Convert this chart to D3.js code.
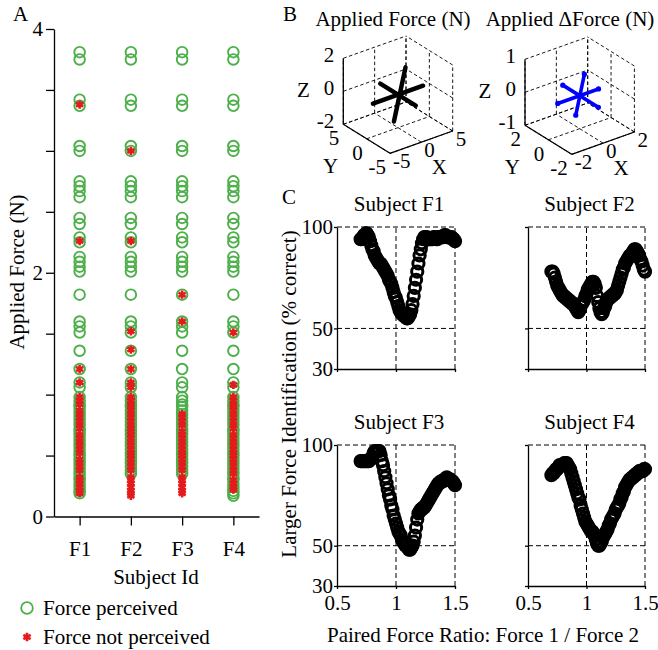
<!DOCTYPE html>
<html>
<head>
<meta charset="utf-8">
<script src="https://cdn.jsdelivr.net/npm/d3@7"></script>
<style>
body { margin: 0; background: #fff; }
text { font-family: "Liberation Serif", "Times New Roman", serif; fill: #000; }
</style>
</head>
<body>
<svg id="fig" width="658" height="650"></svg>
<script>
"use strict";

// ---- panel A data
const subjects = ["F1", "F2", "F3", "F4"];
const forceLevels = [3.81, 3.75, 3.42, 3.37, 3.04, 3.00, 2.75, 2.71, 2.67, 2.62, 2.45, 2.40, 2.29, 2.25,
    2.13, 2.09, 2.05, 2.01, 1.82, 1.60, 1.56, 1.51, 1.36, 1.21, 1.10, 1.06, 0.98, 0.95, 0.92, 0.90,
    0.87, 0.84, 0.81, 0.78, 0.75, 0.72, 0.70, 0.67, 0.64, 0.61, 0.58, 0.55, 0.52, 0.50, 0.47, 0.44,
    0.41, 0.38, 0.35, 0.32, 0.30, 0.27, 0.24, 0.21, 0.19, 0.17];
const lowestPerceived = [0.19, 0.35, 0.35, 0.17];
const notPerceivedF1 = [3.38, 2.26, 1.21, 1.10, 0.98, 0.95, 0.92, 0.87, 0.84, 0.81, 0.78, 0.75, 0.72, 0.67,
    0.64, 0.61, 0.58, 0.55, 0.52, 0.47, 0.44, 0.41, 0.38, 0.32, 0.30, 0.27, 0.24, 0.21, 0.19];
const notPerceivedF2 = [3.00, 2.26, 1.52, 1.37, 1.21, 1.10, 1.06, 0.98, 0.95, 0.92, 0.90, 0.87, 0.84, 0.81,
    0.78, 0.75, 0.72, 0.70, 0.67, 0.64, 0.61, 0.58, 0.55, 0.52, 0.50, 0.47, 0.44, 0.41, 0.38, 0.32,
    0.30, 0.27, 0.24, 0.21, 0.19, 0.17];
const notPerceivedF3 = [1.82, 1.60, 0.84, 0.81, 0.78, 0.75, 0.70, 0.67, 0.64, 0.61, 0.58, 0.55, 0.52, 0.50,
    0.47, 0.44, 0.41, 0.38, 0.32, 0.30, 0.27, 0.24, 0.21, 0.19];
const notPerceivedF4 = [1.51, 1.08, 0.98, 0.95, 0.92, 0.90, 0.87, 0.84, 0.81, 0.78, 0.75, 0.72, 0.67, 0.64,
    0.61, 0.58, 0.55, 0.52, 0.50, 0.47, 0.44, 0.41, 0.38, 0.35, 0.30, 0.27, 0.24, 0.22];
const yTicksA = [0, 0.5, 1, 1.5, 2, 2.5, 3, 3.5, 4];
const yLabelsA = [0, 2, 4];

// ---- panel B data (3D force directions)
const forceTicks = {x: [-5, 0, 5], y: [-5, 0, 5], z: [-2, 0, 2]};
const dForceTicks = {x: [-2, 0, 2], y: [-2, 0, 2], z: [-1, 0, 1]};
const forceLines = [
    [[-4, 0, 0], [4, 0, 0]],
    [[0, -3.8, 0], [0, 3.8, 0]],
    [[0.9, -0.4, 1.6], [-0.5, 0.2, -1.6]]
];
const dForceLines = [
    [[-1.4, 0, 0], [1.2, 0, 0]],
    [[0, 1.45, 0], [0, -1.6, 0]],
    [[0.3, 0, 0.6], [-0.25, 0, -0.55]]
];

// ---- panel C data
const ratios = [0.70, 0.71, 0.72, 0.73, 0.74, 0.75, 0.76, 0.77, 0.78, 0.79,
    0.80, 0.81, 0.82, 0.83, 0.84, 0.85, 0.86, 0.87, 0.88, 0.89,
    0.90, 0.91, 0.92, 0.93, 0.94, 0.95, 0.96, 0.97, 0.98, 0.99,
    1.00, 1.01, 1.02, 1.03, 1.04, 1.05, 1.06, 1.07, 1.08, 1.09,
    1.10, 1.11, 1.12, 1.13, 1.14, 1.15, 1.16, 1.17, 1.18, 1.19,
    1.20, 1.21, 1.22, 1.23, 1.24, 1.25, 1.26, 1.27, 1.28, 1.29,
    1.30, 1.31, 1.32, 1.33, 1.34, 1.35, 1.36, 1.37, 1.38, 1.39,
    1.40, 1.41, 1.42, 1.43, 1.44, 1.45, 1.46, 1.47, 1.48, 1.49, 1.50];
const pctF1 = [94, 94, 95, 96, 96, 97, 96, 95, 93, 91,
    89, 88, 86, 85, 84, 83, 82, 82, 81, 80,
    79, 78, 77, 76, 74, 73, 72, 70, 68, 66,
    65, 63, 61, 59, 58, 57, 57, 56, 56, 55,
    55, 56, 57, 59, 62, 66, 70, 74, 78, 82,
    86, 89, 92, 94, 95, 95, 95, 94, 94, 94,
    94, 94, 95, 95, 94, 94, 95, 95, 95, 95,
    95, 96, 96, 95, 95, 95, 95, 95, 94, 94, 93];
const pctF2 = [78, 78, 77, 75, 73, 71, 70, 69, 68, 67,
    66, 66, 65, 65, 64, 64, 63, 63, 62, 62,
    61, 60, 59, 58, 59, 61, 62, 63, 64, 66,
    67, 69, 70, 71, 72, 73, 73, 72, 70, 66,
    63, 60, 58, 57, 58, 60, 61, 63, 64, 65,
    65, 66, 66, 67, 67, 68, 69, 71, 73, 75,
    77, 79, 80, 82, 83, 84, 85, 86, 86, 87,
    88, 89, 89, 88, 87, 86, 84, 83, 81, 79, 78];
const pctF3 = [92, 92, 92, 92, 92, 92, 92, 92, 93, 93,
    94, 96, 97, 97, 97, 97, 97, 95, 92, 90,
    87, 84, 81, 78, 75, 73, 70, 68, 65, 63,
    61, 59, 57, 56, 55, 53, 52, 51, 50, 50,
    49, 48, 48, 49, 50, 52, 55, 59, 63, 66,
    67, 68, 68, 69, 69, 70, 71, 72, 73, 74,
    75, 76, 77, 78, 79, 80, 81, 81, 82, 82,
    82, 83, 83, 84, 83, 83, 83, 82, 82, 81, 80];
const pctF4 = [85, 86, 86, 87, 88, 88, 89, 90, 90, 90,
    90, 91, 91, 91, 90, 89, 88, 86, 84, 82,
    80, 78, 76, 74, 73, 70, 68, 66, 64, 62,
    61, 60, 59, 58, 57, 57, 56, 55, 53, 51,
    50, 50, 51, 52, 54, 55, 56, 57, 58, 60,
    61, 63, 64, 65, 66, 68, 69, 70, 71, 73,
    74, 76, 77, 79, 80, 81, 82, 83, 83, 84,
    84, 85, 85, 86, 86, 87, 87, 87, 87, 88, 88];
const ratioTicks = [0.5, 1, 1.5];
const pctTicks = [30, 50, 100];

const GREEN = "#4daf4a";
const RED = "#e41a1c";
const FS = "21px";

const svg = d3.select("#fig");

function styleAxis(g) {
    g.attr("font-family", null).attr("font-size", null);
    g.selectAll("text").style("font-size", FS);
    g.selectAll("path, line").attr("stroke-width", 1.3);
}

function label(txt, x, y, anchor, rot) {
    let t = svg.append("text")
        .attr("x", x)
        .attr("y", y)
        .attr("text-anchor", anchor || "middle")
        .style("font-size", FS)
        .text(txt);
    if (rot) {
        t.attr("transform", "rotate(" + rot + "," + x + "," + y + ")");
    }
    return t;
}

function panelA() {
    const x = d3.scalePoint().domain(subjects).range([54, 259]).padding(0.5);
    const y = d3.scaleLinear().domain([0, 4]).range([516.5, 29]);
    const g = svg.append("g");

    g.append("g")
        .attr("transform", "translate(54,0)")
        .call(d3.axisLeft(y).tickValues(yTicksA).tickSize(8).tickSizeOuter(0)
            .tickFormat(d => yLabelsA.includes(d) ? d : ""))
        .call(styleAxis);
    g.append("g")
        .attr("transform", "translate(0,516.5)")
        .call(d3.axisBottom(x).tickSize(9).tickSizeOuter(0).tickPadding(16))
        .call(styleAxis);

    const notPerceived = [notPerceivedF1, notPerceivedF2, notPerceivedF3, notPerceivedF4];
    subjects.forEach(function(s, i) {
        let green = forceLevels.filter(v => v >= lowestPerceived[i] - 0.001);
        g.selectAll(null)
            .data(green)
            .enter()
            .append("circle")
            .attr("cx", x(s))
            .attr("cy", d => y(d))
            .attr("r", 5.3)
            .attr("fill", "none")
            .attr("stroke", GREEN)
            .attr("stroke-width", 1.9);
    });
    subjects.forEach(function(s, i) {
        g.selectAll(null)
            .data(notPerceived[i])
            .enter()
            .append("path")
            .attr("d", d3.symbol(d3.symbolAsterisk, 48))
            .attr("transform", d => "translate(" + x(s) + "," + y(d) + ")")
            .attr("fill", "none")
            .attr("stroke", RED)
            .attr("stroke-width", 2.6);
    });

    label("A", 13, 21, "start");
    label("Subject Id", 156, 584);
    label("Applied Force (N)", 24, 272, "middle", -90);

    // legend
    svg.append("circle").attr("cx", 27).attr("cy", 608).attr("r", 5.8)
        .attr("fill", "none").attr("stroke", GREEN).attr("stroke-width", 1.8);
    label("Force perceived", 43, 615, "start");
    svg.append("path").attr("d", d3.symbol(d3.symbolAsterisk, 50))
        .attr("transform", "translate(27,637)")
        .attr("fill", "none").attr("stroke", RED).attr("stroke-width", 2.6);
    label("Force not perceived", 43, 644, "start");
}

function panel3d(ticks, lines, ox, oy, color, title, titleX) {
    const xs = d3.scaleLinear().domain(d3.extent(ticks.x)).range([0, 1]);
    const ys = d3.scaleLinear().domain(d3.extent(ticks.y)).range([0, 1]);
    const zs = d3.scaleLinear().domain(d3.extent(ticks.z)).range([0, 1]);
    const P = function(x, y, z) {
        let u = xs(x), v = ys(y), w = zs(z);
        return [ox + u * 62.7 - v * 46.7, oy - u * 22.3 - v * 29 - w * 66];
    };
    const [x0, x1] = xs.domain(), [y0, y1] = ys.domain(), [z0, z1] = zs.domain();
    const g = svg.append("g");
    const line = d3.line();

    let grid = [];
    ticks.x.forEach(x => grid.push([P(x, y0, z0), P(x, y1, z0)]));
    ticks.y.forEach(y => grid.push([P(x0, y, z0), P(x1, y, z0)]));
    ticks.x.forEach(x => grid.push([P(x, y1, z0), P(x, y1, z1)]));
    ticks.z.forEach(z => grid.push([P(x0, y1, z), P(x1, y1, z)]));
    ticks.y.forEach(y => grid.push([P(x1, y, z0), P(x1, y, z1)]));
    ticks.z.forEach(z => grid.push([P(x1, y0, z), P(x1, y1, z)]));
    g.selectAll(".grid")
        .data(grid)
        .enter()
        .append("path")
        .attr("d", line)
        .attr("fill", "none")
        .attr("stroke", "#000")
        .attr("stroke-width", 0.9)
        .attr("stroke-dasharray", "3.5,2.5");

    let axes = [
        [P(x0, y1, z0), P(x0, y1, z1)],
        [P(x0, y0, z0), P(x1, y0, z0)],
        [P(x0, y0, z0), P(x0, y1, z0)]
    ];
    g.selectAll(".ax")
        .data(axes)
        .enter()
        .append("path")
        .attr("d", line)
        .attr("fill", "none")
        .attr("stroke", "#000")
        .attr("stroke-width", 1.3);

    // tick labels
    ticks.z.forEach(function(z) {
        let p = P(x0, y1, z);
        label(z, p[0] - 9, p[1] + 4, "end");
    });
    ticks.y.forEach(function(y) {
        let p = P(x0, y, z0);
        label(y, p[0] - 4, p[1] + 21, "end");
    });
    ticks.x.forEach(function(x) {
        let p = P(x, y0, z0);
        label(x, p[0] + 3, p[1] + 15, "start");
    });
    let pz = P(x0, y1, 0), py = P(x0, 0, z0), px = P(0, y0, z0);
    label("Z", pz[0] - 40, pz[1] + 6);
    label("Y", py[0] - 36, py[1] + 34);
    label("X", px[0] + 18, px[1] + 32);

    // star
    g.selectAll(".star")
        .data(lines)
        .enter()
        .append("path")
        .attr("d", d => line(d.map(q => P(q[0], q[1], q[2]))))
        .attr("stroke", color)
        .attr("stroke-width", color === "#000" ? 4.5 : 3.6)
        .attr("stroke-linecap", "round");
    if (color !== "#000") {
        let ends = [];
        lines.forEach(l => { ends.push(l[0]); ends.push(l[1]); });
        g.selectAll(".end")
            .data(ends)
            .enter()
            .append("circle")
            .attr("cx", q => P(q[0], q[1], q[2])[0])
            .attr("cy", q => P(q[0], q[1], q[2])[1])
            .attr("r", 2.6)
            .attr("fill", color);
    }
    label(title, titleX, 26);
}

function panelC() {
    const colRanges = [[337, 455], [528, 645]];
    const rowRanges = [[369, 227], [586, 445]];
    const pcts = [pctF1, pctF2, pctF3, pctF4];
    const titleY = [211, 429];

    subjects.forEach(function(s, i) {
        let col = i % 2, row = Math.floor(i / 2);
        let x = d3.scaleLinear().domain([0.5, 1.5]).range(colRanges[col]);
        let y = d3.scaleLinear().domain([30, 100]).range(rowRanges[row]);
        let g = svg.append("g");

        // dashed grid
        [50, 100].forEach(function(v) {
            g.append("line")
                .attr("x1", x(0.5)).attr("x2", x(1.5))
                .attr("y1", y(v)).attr("y2", y(v))
                .attr("stroke", "#000").attr("stroke-width", 1)
                .attr("stroke-dasharray", "5,3");
        });
        [1, 1.5].forEach(function(v) {
            g.append("line")
                .attr("x1", x(v)).attr("x2", x(v))
                .attr("y1", y(30)).attr("y2", y(100))
                .attr("stroke", "#000").attr("stroke-width", 1)
                .attr("stroke-dasharray", "5,3");
        });

        g.append("g")
            .attr("transform", "translate(" + x(0.5) + ",0)")
            .call(d3.axisLeft(y).tickValues(pctTicks).tickSize(3).tickSizeOuter(0).tickPadding(1)
                .tickFormat(d => col === 0 ? d : ""))
            .call(styleAxis);
        g.append("g")
            .attr("transform", "translate(0," + y(30) + ")")
            .call(d3.axisBottom(x).tickValues(ratioTicks).tickSize(3).tickSizeOuter(0).tickPadding(6)
                .tickFormat(d => row === 1 ? d : ""))
            .call(styleAxis);

        g.selectAll(".pt")
            .data(ratios.map((r, j) => [r, pcts[i][j]]))
            .enter()
            .append("circle")
            .attr("cx", d => x(d[0]))
            .attr("cy", d => y(d[1]))
            .attr("r", 5.6)
            .attr("fill", "none")
            .attr("stroke", "#000")
            .attr("stroke-width", 3);

        label("Subject " + s, d3.mean(colRanges[col]) + 3, titleY[row]);
    });

    label("C", 282, 204, "start");
    label("Larger Force Identification (% correct)", 296, 394, "middle", -90);
    label("Paired Force Ratio: Force 1 / Force 2", 483, 642);
}

function main() {
    panelA();
    label("B", 283, 21, "start");
    panel3d(forceTicks, forceLines, 390, 153.3, "#000", "Applied Force (N)", 393);
    panel3d(dForceTicks, dForceLines, 571.7, 154.3, "#0000ff", "Applied \u0394Force (N)", 570);
    panelC();
}

main();
</script>
</body>
</html>
